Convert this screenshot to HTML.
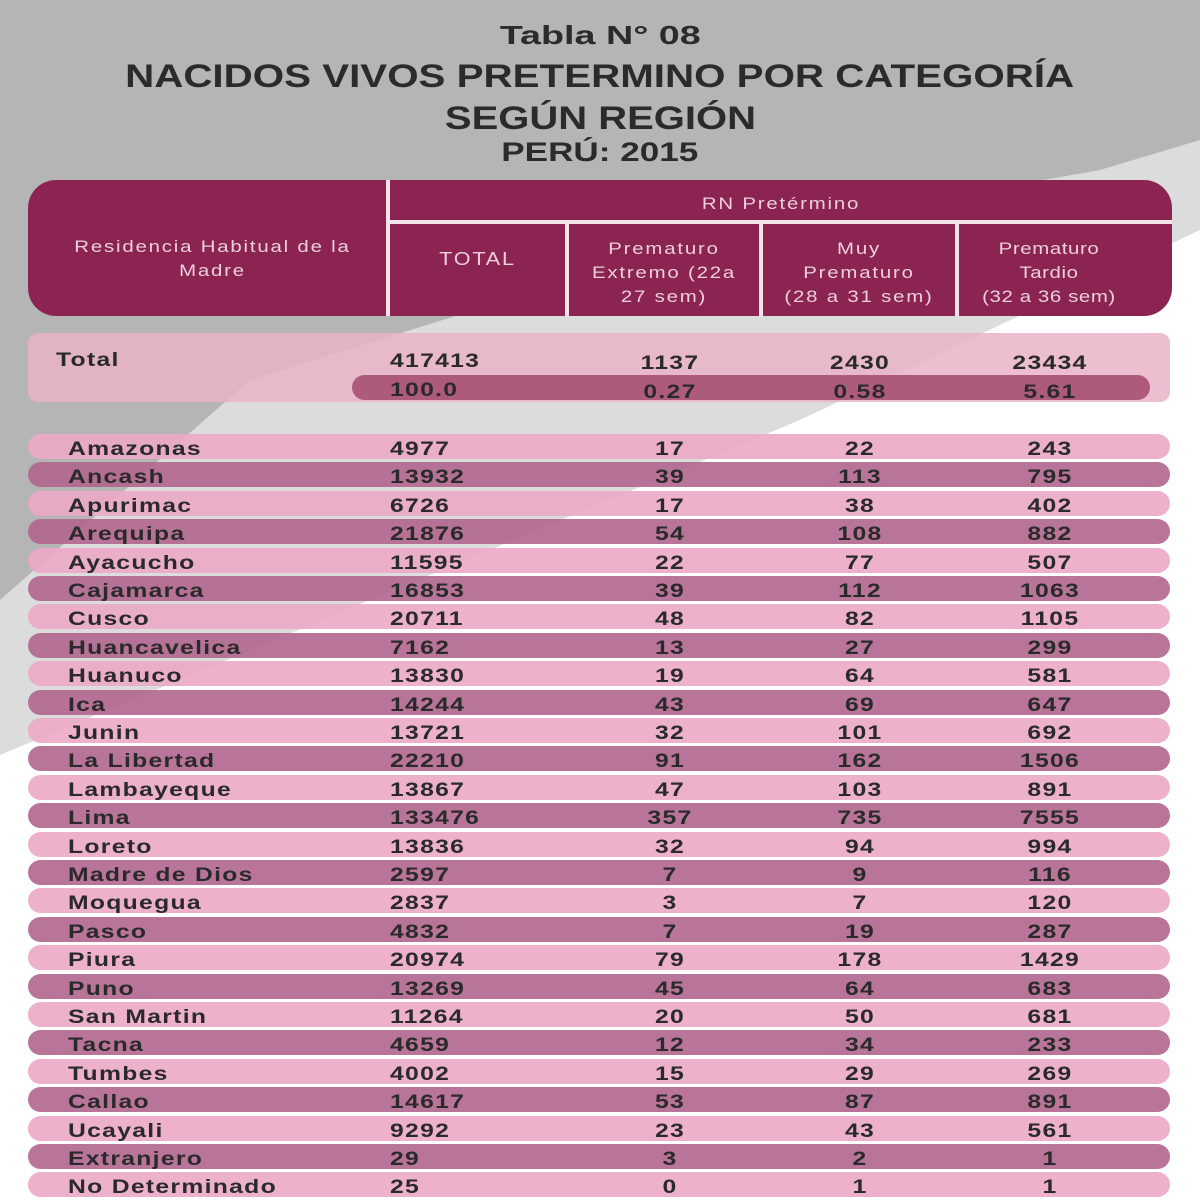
<!DOCTYPE html>
<html><head><meta charset="utf-8"><style>
body{margin:0;width:1200px;height:1200px;overflow:hidden;font-family:"Liberation Sans",sans-serif;position:relative;background:#fff}
.abs{position:absolute}
.t{position:absolute;left:0;width:1200px;text-align:center;font-weight:bold;color:#2b2b2b}
.t span{display:inline-block}
.hd{position:absolute;color:#eccfdb;font-size:17px;text-align:center;line-height:24px;letter-spacing:1.5px;white-space:nowrap;transform:scaleX(1.2);transform-origin:center}
.row{position:absolute;left:28px;width:1142px;height:25px;border-radius:13px;opacity:0.9}
.c{position:absolute;font-size:19px;font-weight:bold;color:#2a2a2a;letter-spacing:1px;transform:scaleX(1.3);transform-origin:left;white-space:nowrap}
.cc{transform-origin:center}
</style></head><body>
<svg class="abs" style="left:0;top:0" width="1200" height="1200">
<polygon points="0,0 1200,0 1200,230 800,420 0,755" fill="#dcdcdc"/>
<polygon points="0,0 1200,0 1200,140 1100,170 700,240 250,380 0,600" fill="#b5b5b5"/>
</svg>
<div class="t" style="top:20px;font-size:26px"><span style="transform:scaleX(1.45)">Tabla N° 08</span></div>
<div class="t" style="top:58px;font-size:32px"><span style="transform:scaleX(1.26)">NACIDOS VIVOS PRETERMINO POR CATEGORÍA</span></div>
<div class="t" style="top:100px;font-size:32px"><span style="transform:scaleX(1.25)">SEGÚN REGIÓN</span></div>
<div class="t" style="top:137px;font-size:27px"><span style="transform:scaleX(1.3)">PERÚ: 2015</span></div>

<div class="abs" style="left:28px;top:180px;width:1144px;height:136px;background:#8b2453;border-radius:28px"></div>
<div class="abs" style="left:386px;top:180px;width:4px;height:136px;background:#f3e6ea"></div>
<div class="abs" style="left:390px;top:220px;width:782px;height:4px;background:#f3e6ea"></div>
<div class="abs" style="left:565px;top:222px;width:4px;height:94px;background:#f3e6ea"></div>
<div class="abs" style="left:759px;top:222px;width:4px;height:94px;background:#f3e6ea"></div>
<div class="abs" style="left:955px;top:222px;width:4px;height:94px;background:#f3e6ea"></div>
<div class="hd" style="left:40px;top:235px;width:345px">Residencia Habitual de la<br>Madre</div>
<div class="hd" style="left:390px;top:192px;width:782px">RN Pretérmino</div>
<div class="hd" style="left:390px;top:247px;width:175px;font-size:18px">TOTAL</div>
<div class="hd" style="left:569px;top:237px;width:190px">Prematuro<br>Extremo (22a<br>27 sem)</div>
<div class="hd" style="left:763px;top:237px;width:192px">Muy<br>Prematuro<br>(28 a 31 sem)</div>
<div class="hd" style="left:959px;top:237px;width:180px;letter-spacing:0.5px">Prematuro<br>Tardio<br>(32 a 36 sem)</div>

<div class="abs" style="left:28px;top:333px;width:1142px;height:69px;background:#eab3c8;border-radius:10px;opacity:0.85"></div>
<div class="abs" style="left:352px;top:375px;width:798px;height:25px;background:#ad5a7d;border-radius:13px"></div>
<div class="c" style="left:56px;top:350px">Total</div>
<div class="c" style="left:390px;top:351px">417413</div>
<div class="c cc" style="left:620px;top:353px;width:100px;text-align:center">1137</div>
<div class="c cc" style="left:810px;top:353px;width:100px;text-align:center">2430</div>
<div class="c cc" style="left:1000px;top:353px;width:100px;text-align:center">23434</div>
<div class="c" style="left:390px;top:380px">100.0</div>
<div class="c cc" style="left:620px;top:382px;width:100px;text-align:center">0.27</div>
<div class="c cc" style="left:810px;top:382px;width:100px;text-align:center">0.58</div>
<div class="c cc" style="left:1000px;top:382px;width:100px;text-align:center">5.61</div>

<div id="rows"></div>
<script>
const regions=["Amazonas","Ancash","Apurimac","Arequipa","Ayacucho","Cajamarca","Cusco","Huancavelica","Huanuco","Ica","Junin","La Libertad","Lambayeque","Lima","Loreto","Madre de Dios","Moquegua","Pasco","Piura","Puno","San Martin","Tacna","Tumbes","Callao","Ucayali","Extranjero","No Determinado"];
const totals=[4977,13932,6726,21876,11595,16853,20711,7162,13830,14244,13721,22210,13867,133476,13836,2597,2837,4832,20974,13269,11264,4659,4002,14617,9292,29,25];
const extremo=[17,39,17,54,22,39,48,13,19,43,32,91,47,357,32,7,3,7,79,45,20,12,15,53,23,3,0];
const muy=[22,113,38,108,77,112,82,27,64,69,101,162,103,735,94,9,7,19,178,64,50,34,29,87,43,2,1];
const tardio=[243,795,402,882,507,1063,1105,299,581,647,692,1506,891,7555,994,116,120,287,1429,683,681,233,269,891,561,1,1];
const host=document.getElementById('rows');
regions.forEach((r,i)=>{
  const y=434+i*28.4;
  const bar=document.createElement('div');
  bar.className='row';
  bar.style.top=y+'px';
  bar.style.background=i%2?'#b1658f':'#eca8c6';
  
  
  host.appendChild(bar);
  const cells=[[r,68,'left'],[totals[i],390,'left'],[extremo[i],620,'center'],[muy[i],810,'center'],[tardio[i],1000,'center']];
  cells.forEach((c,j)=>{
    const d=document.createElement('div');
    d.className='c';
    d.textContent=c[0];
    d.style.left=c[1]+'px';
    d.style.top=(y+5)+'px';
    if(c[2]==='center'){d.style.width='100px';d.style.textAlign='center';d.classList.add('cc');}
    
    
    host.appendChild(d);
  });
});
</script>
</body></html>
